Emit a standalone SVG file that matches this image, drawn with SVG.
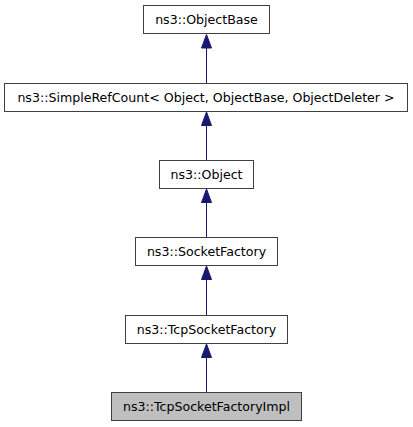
<svg xmlns="http://www.w3.org/2000/svg" width="413" height="427" viewBox="0 0 413 427">
<style>
.box{fill:#ffffff;stroke:#404040;stroke-width:1}
.cur{fill:#bfbfbf;stroke:#404040;stroke-width:1}
.lbl{font-family:"DejaVu Sans",sans-serif;font-size:12.6px;fill:#000000;text-anchor:middle}
.edge{stroke:#191970;stroke-width:1;fill:none}
.head{fill:#191970;stroke:#191970;stroke-width:1}
</style>
<rect x="0" y="0" width="413" height="427" fill="#ffffff"/>
<g id="connectors">
<line class="edge" x1="206.5" y1="83.5" x2="206.5" y2="47"/>
<polygon class="head" points="206.5,34.5 201.5,48 211.5,48"/>
<line class="edge" x1="206.5" y1="160.5" x2="206.5" y2="125"/>
<polygon class="head" points="206.5,112 201.5,125.5 211.5,125.5"/>
<line class="edge" x1="206.5" y1="237.5" x2="206.5" y2="202"/>
<polygon class="head" points="206.5,189 201.5,202.5 211.5,202.5"/>
<line class="edge" x1="206.5" y1="315.5" x2="206.5" y2="279"/>
<polygon class="head" points="206.5,266 201.5,279.5 211.5,279.5"/>
<line class="edge" x1="206.5" y1="392.5" x2="206.5" y2="357"/>
<polygon class="head" points="206.5,344 201.5,357.5 211.5,357.5"/>
</g>
<g id="node-ObjectBase">
<rect class="box" x="143.5" y="5.5" width="126" height="28"/>
<text class="lbl" x="206.5" y="24">ns3::ObjectBase</text>
</g>
<g id="node-SimpleRefCount">
<rect class="box" x="4.5" y="83.5" width="403" height="28"/>
<text class="lbl" x="206" y="102">ns3::SimpleRefCount&lt; Object, ObjectBase, ObjectDeleter &gt;</text>
</g>
<g id="node-Object">
<rect class="box" x="159.5" y="160.5" width="94" height="28"/>
<text class="lbl" x="206.5" y="179">ns3::Object</text>
</g>
<g id="node-SocketFactory">
<rect class="box" x="135.5" y="237.5" width="142" height="28"/>
<text class="lbl" x="206.5" y="256">ns3::SocketFactory</text>
</g>
<g id="node-TcpSocketFactory">
<rect class="box" x="125.5" y="315.5" width="162" height="28"/>
<text class="lbl" x="206.5" y="334">ns3::TcpSocketFactory</text>
</g>
<g id="node-TcpSocketFactoryImpl">
<rect class="cur" x="111.5" y="392.5" width="190" height="28"/>
<text class="lbl" x="206.5" y="411">ns3::TcpSocketFactoryImpl</text>
</g>
</svg>
